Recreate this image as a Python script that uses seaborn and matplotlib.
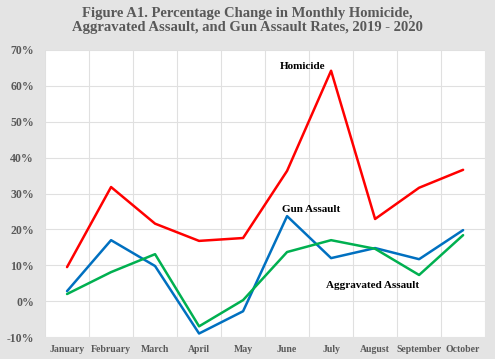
import matplotlib
matplotlib.use("Agg")
import matplotlib.pyplot as plt
import seaborn as sns
import pandas as pd
from matplotlib.ticker import FuncFormatter, MultipleLocator

months = ["January", "February", "March", "April", "May", "June",
          "July", "August", "September", "October"]
homicide = [9.5, 31.8, 21.6, 16.8, 17.6, 36.3, 64.2, 22.9, 31.6, 36.6]
gun_assault = [2.8, 17.0, 9.8, -9.0, -2.8, 23.7, 12.0, 14.8, 11.7, 19.8]
agg_assault = [2.0, 8.1, 13.1, -7.0, 0.3, 13.7, 17.0, 14.6, 7.3, 18.4]

sns.set_theme(style="white")
plt.rcParams['font.family'] = ['Liberation Serif', 'DejaVu Serif']

df = pd.DataFrame({
    "Month": months * 3,
    "Series": ["Homicide"] * 10 + ["Gun Assault"] * 10 + ["Aggravated Assault"] * 10,
    "Value": homicide + gun_assault + agg_assault,
})
df["x"] = list(range(10)) * 3

fig = plt.figure(figsize=(4.95, 3.59), dpi=100)
fig.patch.set_facecolor("#e4e4e4")
ax = fig.add_axes([0.091, 0.061, 0.889, 0.800])
ax.set_facecolor("white")

palette = {"Homicide": "#ff0000", "Gun Assault": "#0070c0", "Aggravated Assault": "#00b050"}
sns.lineplot(data=df, x="x", y="Value", hue="Series", palette=palette,
             linewidth=1.8, ax=ax, legend=False, sort=False)

ax.set_xlim(-0.5, 9.5)
ax.set_ylim(-10, 70)
ax.yaxis.set_major_locator(MultipleLocator(10))
ax.yaxis.set_major_formatter(FuncFormatter(lambda v, p: f"{v:.0f}%"))
ax.set_xticks(range(10))
ax.set_xticklabels(months)
ax.set_xticks([i + 0.5 for i in range(-1, 10)], minor=True)
ax.grid(False)
ax.grid(True, axis="y", which="major", color="#e0e0e0", linewidth=0.8)
ax.grid(True, axis="x", which="minor", color="#e0e0e0", linewidth=0.8)
ax.set_axisbelow(True)
for s in ax.spines.values():
    s.set_visible(False)
ax.tick_params(axis="both", which="both", length=0, colors="#595959")
for lab in ax.get_xticklabels():
    lab.set_fontsize(7)
    lab.set_fontweight("bold")
for lab in ax.get_yticklabels():
    lab.set_fontsize(8.5)
    lab.set_fontweight("bold")
ax.tick_params(axis="x", pad=6)
ax.tick_params(axis="y", pad=8)
ax.set_xlabel("")
ax.set_ylabel("")

ax.text(5.35, 65.5, "Homicide", fontsize=8, fontweight="bold", color="black", ha="center", va="center")
ax.text(5.55, 25.5, "Gun Assault", fontsize=8, fontweight="bold", color="black", ha="center", va="center")
ax.text(6.95, 4.5, "Aggravated Assault", fontsize=8, fontweight="bold", color="black", ha="center", va="center")

fig.text(0.5, 0.943, "Figure A1. Percentage Change in Monthly Homicide,\nAggravated Assault, and Gun Assault Rates, 2019 - 2020",
         ha="center", va="center", fontsize=10.5, fontweight="bold", color="#595959", linespacing=1.15)

fig.savefig("out.png", dpi=100, facecolor=fig.get_facecolor())
